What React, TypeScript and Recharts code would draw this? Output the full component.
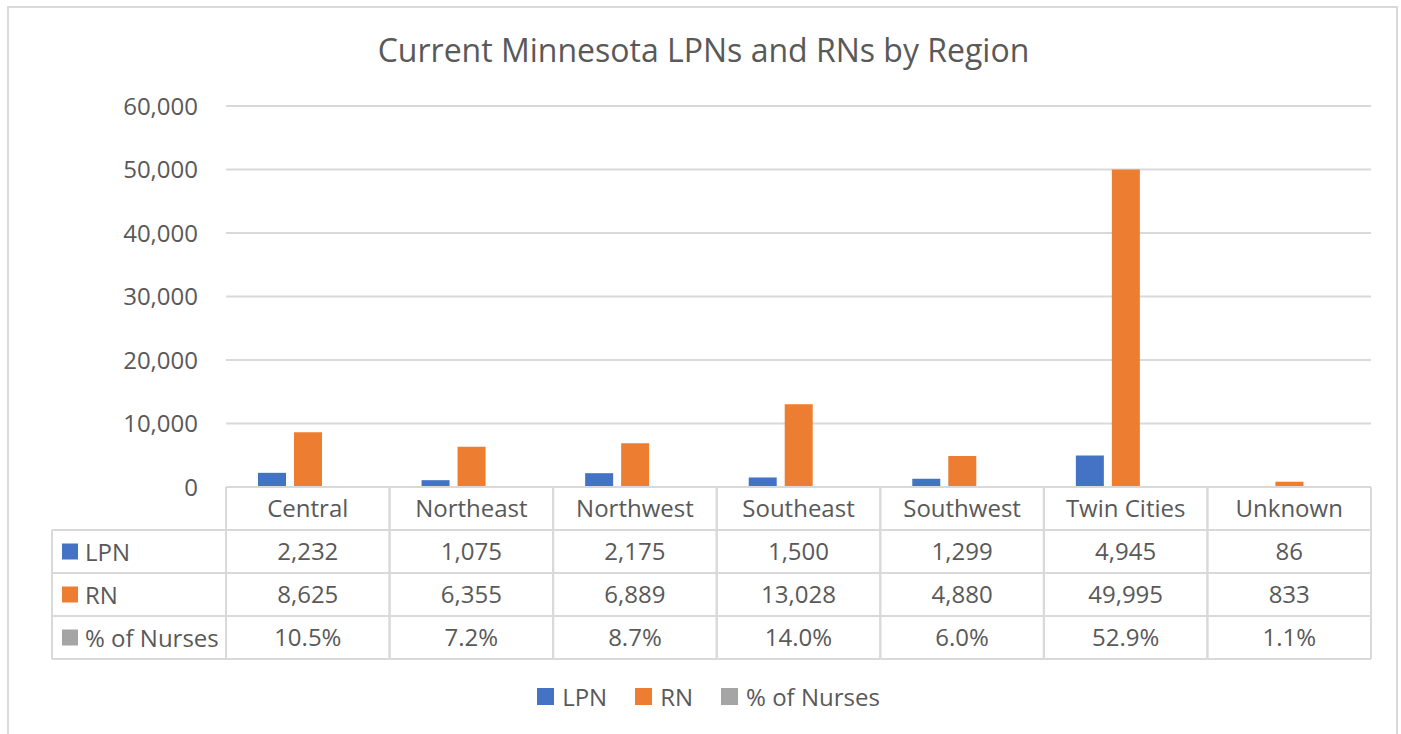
import { BarChart, Bar, XAxis, YAxis, CartesianGrid, Legend } from "recharts";

const regions = ["Central", "Northeast", "Northwest", "Southeast", "Southwest", "Twin Cities", "Unknown"];
const lpnValues = [2232, 1075, 2175, 1500, 1299, 4945, 86];
const rnValues = [8625, 6355, 6889, 13028, 4880, 49995, 833];
const pctValues = [0.105, 0.072, 0.087, 0.14, 0.06, 0.529, 0.011];
const yTicks = [0, 10000, 20000, 30000, 40000, 50000, 60000];

const seriesList = [
  { key: "lpn", name: "LPN", color: "#4472C4" },
  { key: "rn", name: "RN", color: "#ED7D31" },
  { key: "pct", name: "% of Nurses", color: "#A5A5A5" },
];

const data = regions.map((region, i) => ({
  region,
  lpn: lpnValues[i],
  rn: rnValues[i],
  pct: pctValues[i],
}));

const W = 1401;
const H = 734;
const PLOT_LEFT = 226;
const PLOT_RIGHT = 1371;
const PLOT_TOP = 106;
const PLOT_BOTTOM = 487;
const ROW_H = 43;
const TABLE_H = ROW_H * 4;
const TABLE_LEFT = 52;
const COL_W = (PLOT_RIGHT - PLOT_LEFT) / regions.length;
const Y_AXIS_W = 100;

const FONT = "'Open Sans', sans-serif";
const TEXT = "#595959";
const LINE = "#D9D9D9";
const FS = 24;

const fmtNum = (v: number) => v.toLocaleString("en-US");
const fmtPct = (v: number) => `${(v * 100).toFixed(1)}%`;

const cellText = (row: number, i: number) => {
  if (row === 0) return regions[i];
  if (row === 1) return fmtNum(lpnValues[i]);
  if (row === 2) return fmtNum(rnValues[i]);
  return fmtPct(pctValues[i]);
};

const TableTick = (props: any) => {
  const { x, index } = props;
  const left = x - COL_W / 2;
  const right = x + COL_W / 2;
  const top = PLOT_BOTTOM;
  return (
    <g>
      {index === 0 && (
        <g>
          <line x1={TABLE_LEFT} x2={TABLE_LEFT} y1={top + ROW_H} y2={top + TABLE_H} stroke={LINE} strokeWidth={2} />
          {[1, 2, 3, 4].map((r) => (
            <line key={r} x1={TABLE_LEFT} x2={left} y1={top + ROW_H * r} y2={top + ROW_H * r} stroke={LINE} strokeWidth={2} />
          ))}
          {seriesList.map((s, r) => (
            <g key={s.key}>
              <rect x={62} y={top + ROW_H * (r + 1) + ROW_H / 2 - 8} width={16} height={16} fill={s.color} />
              <text
                x={85}
                y={top + ROW_H * (r + 1) + ROW_H / 2}
                dominantBaseline="central"
                fill={TEXT}
                fontSize={FS}
                fontFamily={FONT}
              >
                {s.name}
              </text>
            </g>
          ))}
        </g>
      )}
      <line x1={left} x2={left} y1={top} y2={top + TABLE_H} stroke={LINE} strokeWidth={2} />
      <line x1={right} x2={right} y1={top} y2={top + TABLE_H} stroke={LINE} strokeWidth={2} />
      {[0, 1, 2, 3, 4].map((r) => (
        <line key={r} x1={left} x2={right} y1={top + ROW_H * r} y2={top + ROW_H * r} stroke={LINE} strokeWidth={2} />
      ))}
      {[0, 1, 2, 3].map((r) => (
        <text
          key={r}
          x={x}
          y={top + ROW_H * r + ROW_H / 2 - 1}
          textAnchor="middle"
          dominantBaseline="central"
          fill={TEXT}
          fontSize={FS}
          fontFamily={FONT}
        >
          {cellText(r, index)}
        </text>
      ))}
    </g>
  );
};

const LegendContent = () => (
  <div
    style={{
      display: "flex",
      justifyContent: "center",
      alignItems: "center",
      fontFamily: FONT,
      fontSize: FS,
      color: TEXT,
      paddingLeft: 16,
    }}
  >
    {seriesList.map((s) => (
      <div key={s.key} style={{ display: "flex", alignItems: "center", marginLeft: 14, marginRight: 14 }}>
        <span style={{ display: "inline-block", width: 17, height: 17, background: s.color, marginRight: 8 }} />
        <span>{s.name}</span>
      </div>
    ))}
  </div>
);

export default function App() {
  return (
    <div style={{ position: "absolute", left: 0, top: 0, width: W, height: H, background: "#fff" }}>
      <div
        style={{
          position: "absolute",
          left: 7,
          top: 6,
          width: W - 10,
          height: H,
          border: `2px solid ${LINE}`,
          boxSizing: "border-box",
        }}
      />
      <div
        style={{
          position: "absolute",
          left: 0,
          top: 27,
          width: W,
          paddingLeft: 6,
          boxSizing: "border-box",
          textAlign: "center",
          fontFamily: FONT,
          fontSize: 32,
          color: TEXT,
          lineHeight: "46px",
        }}
      >
        Current Minnesota LPNs and RNs by Region
      </div>
      <div style={{ position: "absolute", left: 0, top: 0 }}>
        <BarChart
          width={W}
          height={H}
          data={data}
          margin={{ top: PLOT_TOP, right: W - PLOT_RIGHT, bottom: H - PLOT_BOTTOM - TABLE_H, left: PLOT_LEFT - Y_AXIS_W }}
          barSize={28}
          barGap={8}
        >
          <CartesianGrid vertical={false} stroke={LINE} strokeWidth={2} />
          <XAxis
            dataKey="region"
            height={TABLE_H}
            axisLine={{ stroke: LINE, strokeWidth: 2 }}
            tickLine={false}
            interval={0}
            tick={<TableTick />}
          />
          <YAxis
            width={Y_AXIS_W}
            domain={[0, 60000]}
            ticks={yTicks}
            axisLine={false}
            tickLine={false}
            tickSize={0}
            tickMargin={28}
            tickFormatter={fmtNum}
            tick={{ fill: TEXT, fontSize: FS, fontFamily: FONT }}
          />
          <Legend
            layout="horizontal"
            verticalAlign="middle"
            align="center"
            wrapperStyle={{ top: 680, left: 0, width: W }}
            content={<LegendContent />}
          />
          {seriesList.map((s) => (
            <Bar key={s.key} dataKey={s.key} name={s.name} fill={s.color} isAnimationActive={false} />
          ))}
        </BarChart>
      </div>
    </div>
  );
}
